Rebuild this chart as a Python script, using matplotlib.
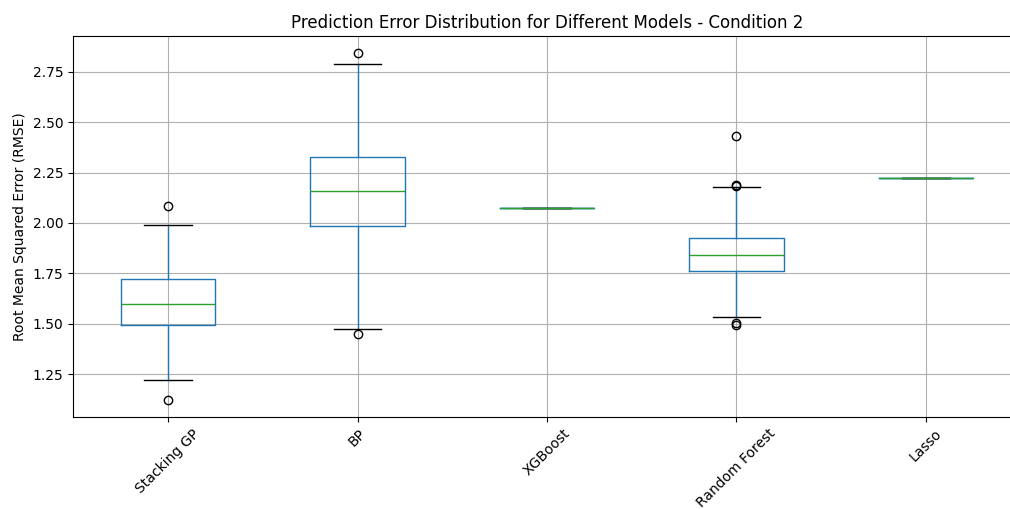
import matplotlib
matplotlib.use("Agg")
import matplotlib.pyplot as plt

# values
models = ["Stacking GP", "BP", "XGBoost", "Random Forest", "Lasso"]
q1 = [1.495, 1.987, 2.075, 1.762, 2.225]
med = [1.598, 2.160, 2.075, 1.842, 2.225]
q3 = [1.722, 2.326, 2.075, 1.927, 2.225]
whislo = [1.221, 1.476, 2.075, 1.536, 2.225]
whishi = [1.991, 2.790, 2.075, 2.180, 2.225]
fliers = [
    [2.082, 1.125],
    [2.840, 1.451],
    [],
    [2.430, 2.190, 2.184, 1.503, 1.495],
    [],
]

stats = []
for i, name in enumerate(models):
    stats.append({
        "label": name,
        "q1": q1[i], "med": med[i], "q3": q3[i],
        "whislo": whislo[i], "whishi": whishi[i],
        "fliers": fliers[i],
    })

fig = plt.figure(figsize=(10.1, 5.09), dpi=100)
ax = fig.add_axes([0.0726, 0.181, 0.938, 0.748])

ax.bxp(stats,
       boxprops=dict(color="C0"),
       whiskerprops=dict(color="C0"),
       medianprops=dict(color="C2"),
       capprops=dict(color="k"),
       flierprops=dict(marker="o", markerfacecolor="none", markeredgecolor="k"))

ax.grid(True)
ax.set_axisbelow(True)
ax.set_title("Prediction Error Distribution for Different Models - Condition 2")
ax.set_ylabel("Root Mean Squared Error (RMSE)")
plt.setp(ax.get_xticklabels(), rotation=45)

fig.savefig("out.png", dpi=100)
